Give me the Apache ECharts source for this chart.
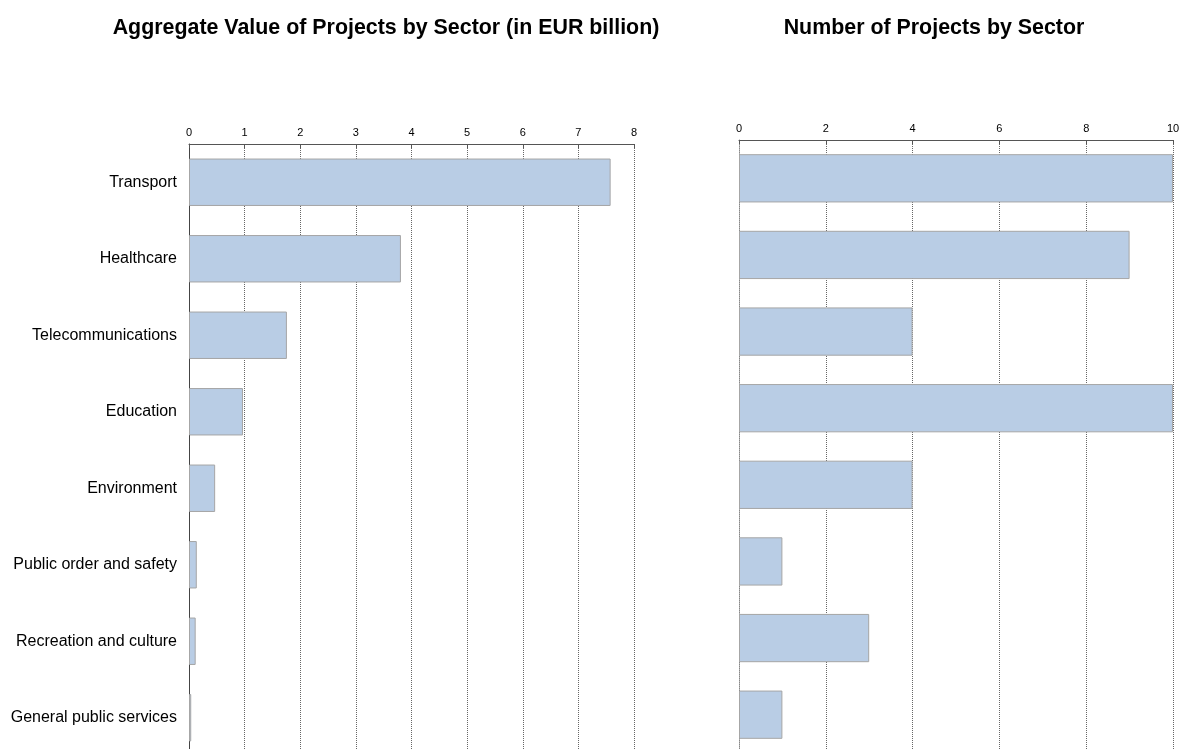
<!DOCTYPE html>
<html>
<head>
<meta charset="utf-8">
<script src="https://cdn.jsdelivr.net/npm/echarts@6/dist/echarts.min.js"></script>
<style>
  html, body { margin: 0; padding: 0; background: #fff; }
  #chart { width: 1185px; height: 749px; }
</style>
</head>
<body>
<div id="chart"></div>
<script>
// sectors, top to bottom
var sectors = ['Transport', 'Healthcare', 'Telecommunications', 'Education',
  'Environment', 'Public order and safety', 'Recreation and culture', 'General public services']
// EUR billion
var valueBySector = [7.58, 3.81, 1.76, 0.97, 0.47, 0.14, 0.12, 0.04]
// number of projects
var countBySector = [10, 9, 4, 10, 4, 1, 3, 1]

var FONT = '"Liberation Sans", Arial, sans-serif'
var barColor = '#B9CDE5'

var chart = echarts.init(document.getElementById('chart'))

function valueAxis(idx, max, interval) {
  return {
    type: 'value',
    gridIndex: idx,
    position: 'top',
    min: 0,
    max: max,
    interval: interval,
    axisLine: { show: true, lineStyle: { color: '#555', width: 1 } },
    axisTick: { show: true, inside: true, length: 4, lineStyle: { color: '#555' } },
    axisLabel: { color: '#000', fontSize: 11, fontFamily: FONT, margin: 6 },
    splitLine: { show: true, lineStyle: { color: '#666', type: 'dotted', width: 1 } }
  }
}

chart.setOption({
  animation: false,
  title: [
    {
      text: 'Aggregate Value of Projects by Sector (in EUR billion)',
      left: 381, top: 13, textAlign: 'center',
      textStyle: { fontSize: 21.4, fontWeight: 'bold', color: '#000', fontFamily: FONT }
    },
    {
      text: 'Number of Projects by Sector',
      left: 929, top: 13, textAlign: 'center',
      textStyle: { fontSize: 21.4, fontWeight: 'bold', color: '#000', fontFamily: FONT }
    }
  ],
  grid: [
    { left: 189, width: 445, top: 144, height: 612, outerBoundsMode: 'none' },
    { left: 739, width: 434, top: 140, height: 613, outerBoundsMode: 'none' }
  ],
  xAxis: [
    valueAxis(0, 8, 1),
    valueAxis(1, 10, 2)
  ],
  yAxis: [
    {
      type: 'category',
      gridIndex: 0,
      data: sectors,
      inverse: true,
      axisLine: { show: true, lineStyle: { color: '#444', width: 1 } },
      axisTick: { show: false },
      axisLabel: { color: '#000', fontSize: 16, fontFamily: FONT, margin: 12 }
    },
    {
      type: 'category',
      gridIndex: 1,
      data: sectors,
      inverse: true,
      axisLine: { show: true, lineStyle: { color: '#888', type: 'dotted', width: 1 } },
      axisTick: { show: false },
      axisLabel: { show: false }
    }
  ],
  series: [
    {
      type: 'bar',
      xAxisIndex: 0,
      yAxisIndex: 0,
      data: valueBySector,
      barCategoryGap: '38%',
      itemStyle: { color: barColor, borderColor: '#A6A6A6', borderWidth: 1 }
    },
    {
      type: 'bar',
      xAxisIndex: 1,
      yAxisIndex: 1,
      data: countBySector,
      barCategoryGap: '37%',
      itemStyle: { color: barColor, borderColor: '#A6A6A6', borderWidth: 1 }
    }
  ]
})
</script>
</body>
</html>
